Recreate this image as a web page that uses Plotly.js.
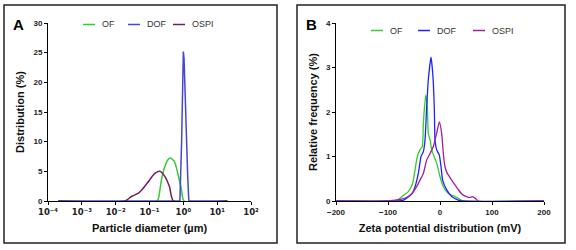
<!DOCTYPE html>
<html><head><meta charset="utf-8">
<script src="https://cdn.plot.ly/plotly-3.0.1.min.js"></script>
<style>html,body{margin:0;padding:0;background:#fff}#c{width:576px;height:250px}</style>
</head><body><div id="c"></div>
<script>
// Panel A: particle size distribution (x in µm, y in %)
const sizeOF_x = [0.0002, 0.168, 0.2, 0.224, 0.28, 0.355, 0.42, 0.55, 0.69, 0.87, 1.05, 20];
const sizeOF_y = [0, 0, 1.6, 3.5, 5.7, 7.0, 7.25, 6.6, 4.6, 2.1, 0, 0];
const sizeDOF_x = [0.0002, 0.79, 0.89, 1.0, 1.05, 1.2, 1.35, 1.45, 20];
const sizeDOF_y = [0, 0, 10, 25.2, 24, 12, 4, 0, 0];
const sizeOSPI_x = [0.0002, 0.019, 0.03, 0.046, 0.058, 0.091, 0.141, 0.2, 0.28, 0.39, 0.51, 20];
const sizeOSPI_y = [0, 0, 0.8, 1.3, 1.8, 3.2, 4.6, 5.0, 4.2, 2.4, 0, 0];
// Panel B: zeta potential (mV, relative frequency %)
const zetaOF_x = [-200, -86, -77, -70, -61, -52.5, -48, -43.6, -38.5, -34, -32, -27.5, -24.4, -22.5, -19, -16, -6.4, 0, 6.4, 16, 29, 38, 45, 200];
const zetaOF_y = [0, 0, 0.06, 0.13, 0.21, 0.4, 0.7, 1.0, 1.15, 1.22, 1.75, 2.38, 2.12, 1.52, 1.37, 1.15, 0.85, 0.55, 0.32, 0.17, 0.1, 0.04, 0, 0];
const zetaDOF_x = [-200, -85, -70, -54, -48, -41.7, -36.5, -32, -28.8, -25.6, -22.5, -17.3, -14, -11, -9.6, -6.4, -1.3, 2, 5, 13, 22.4, 35, 42, 200];
const zetaDOF_y = [0, 0, 0.02, 0.16, 0.32, 0.62, 1.0, 1.11, 1.37, 2.12, 2.72, 3.23, 2.87, 2.12, 1.37, 1.15, 1.03, 0.77, 0.47, 0.25, 0.1, 0.02, 0, 0];
const zetaOSPI_x = [-200, -106, -74, -61, -51, -45, -38.5, -32, -25.6, -19, -13, -6.4, -1.3, 3.2, 6.4, 9.6, 14, 18, 22.4, 29, 35, 41.7, 51, 57, 63, 70, 73, 200];
const zetaOSPI_y = [0, 0, 0.04, 0.1, 0.21, 0.32, 0.47, 0.62, 0.92, 1.07, 1.22, 1.52, 1.78, 1.52, 1.07, 0.77, 0.62, 0.55, 0.47, 0.36, 0.26, 0.16, 0.1, 0.08, 0.1, 0.04, 0, 0];
const seriesNames = ['OF', 'DOF', 'OSPI'];
const logTickVals = [0.0001, 0.001, 0.01, 0.1, 1, 10, 100];
const logTickText = ['10⁻⁴', '10⁻³', '10⁻²', '10⁻¹', '10⁰', '10¹', '10²'];

const colA = ['#33cc33', '#4646d8', '#6e1f5e'];
const colB = ['#33cc33', '#2222ff', '#a020a0'];
const FONT = 'Liberation Sans, Arial, sans-serif';

const traces = [];
[[sizeOF_x, sizeOF_y], [sizeDOF_x, sizeDOF_y], [sizeOSPI_x, sizeOSPI_y]].forEach((d, i) => {
  traces.push({x: d[0], y: d[1], type: 'scatter', mode: 'lines', name: seriesNames[i],
    line: {color: colA[i], width: 1.5, shape: i === 1 ? 'linear' : 'spline', smoothing: 0.6}, xaxis: 'x', yaxis: 'y', showlegend: false});
});
[[zetaOF_x, zetaOF_y], [zetaDOF_x, zetaDOF_y], [zetaOSPI_x, zetaOSPI_y]].forEach((d, i) => {
  traces.push({x: d[0], y: d[1], type: 'scatter', mode: 'lines', name: seriesNames[i],
    line: {color: colB[i], width: 1.3, shape: 'spline', smoothing: 0.5}, xaxis: 'x2', yaxis: 'y2', showlegend: false});
});

const W = 576, H = 250;
const px = v => v / W, py = v => 1 - v / H;
const axCommon = {showgrid: false, zeroline: false, showline: true, linecolor: '#000', linewidth: 1,
  ticks: 'outside', ticklen: 3, tickwidth: 1, tickcolor: '#000',
  tickfont: {family: FONT, size: 8, color: '#222', weight: 'bold'}};
const titleFont = {family: FONT, size: 11, color: '#111', weight: 'bold'};

const shapes = [
  {type: 'rect', xref: 'paper', yref: 'paper', x0: px(4), x1: px(277), y0: py(243), y1: py(5), line: {color: '#222', width: 1.5}},
  {type: 'rect', xref: 'paper', yref: 'paper', x0: px(297), x1: px(565), y0: py(243), y1: py(5), line: {color: '#222', width: 1.5}}
];
const annotations = [
  {text: '<b>A</b>', xref: 'paper', yref: 'paper', x: px(11), y: py(25), xanchor: 'left', yanchor: 'middle', showarrow: false, font: {family: FONT, size: 15, color: '#000'}},
  {text: '<b>B</b>', xref: 'paper', yref: 'paper', x: px(304), y: py(25), xanchor: 'left', yanchor: 'middle', showarrow: false, font: {family: FONT, size: 15, color: '#000'}}
];
// manual legends
const legA = [[83, 100], [128, 145], [173, 190]];
const legB = [[371, 388], [418, 435], [473, 490]];
function addLegend(pos, cols, yc) {
  pos.forEach((p, i) => {
    shapes.push({type: 'line', xref: 'paper', yref: 'paper', x0: px(p[0]), x1: px(p[0] + 12), y0: py(yc), y1: py(yc), line: {color: cols[i], width: 1.5}});
    annotations.push({text: seriesNames[i], xref: 'paper', yref: 'paper', x: px(p[1]), y: py(yc), xanchor: 'left', yanchor: 'middle', showarrow: false, font: {family: FONT, size: 9, color: '#333'}});
  });
}
addLegend(legA, colA, 24.5);
addLegend(legB, colB, 30.5);

const layout = {
  width: W, height: H, margin: {l: 0, r: 0, t: 0, b: 0}, paper_bgcolor: '#fff', plot_bgcolor: 'rgba(0,0,0,0)',
  showlegend: false,
  xaxis: Object.assign({}, axCommon, {type: 'log', domain: [px(48), px(251)], range: [-4, 2], tickvals: logTickVals, ticktext: logTickText,
    tickfont: {family: 'DejaVu Sans, sans-serif', size: 8.5, color: '#222', weight: 'bold'},
    anchor: 'y', title: {text: 'Particle diameter (µm)', font: titleFont, standoff: 8}}),
  yaxis: Object.assign({}, axCommon, {domain: [py(201), py(23)], range: [0, 30], dtick: 5, anchor: 'x',
    title: {text: 'Distribution (%)', font: titleFont, standoff: 6}}),
  xaxis2: Object.assign({}, axCommon, {domain: [px(336), px(544)], range: [-200, 200], dtick: 100, anchor: 'y2',
    title: {text: 'Zeta potential distribution (mV)', font: titleFont, standoff: 8}}),
  yaxis2: Object.assign({}, axCommon, {domain: [py(201), py(23)], range: [0, 4], dtick: 1, anchor: 'x2',
    title: {text: 'Relative frequency (%)', font: titleFont, standoff: 6}}),
  shapes: shapes, annotations: annotations
};
Plotly.newPlot('c', traces, layout, {staticPlot: true, displayModeBar: false});
</script></body></html>
